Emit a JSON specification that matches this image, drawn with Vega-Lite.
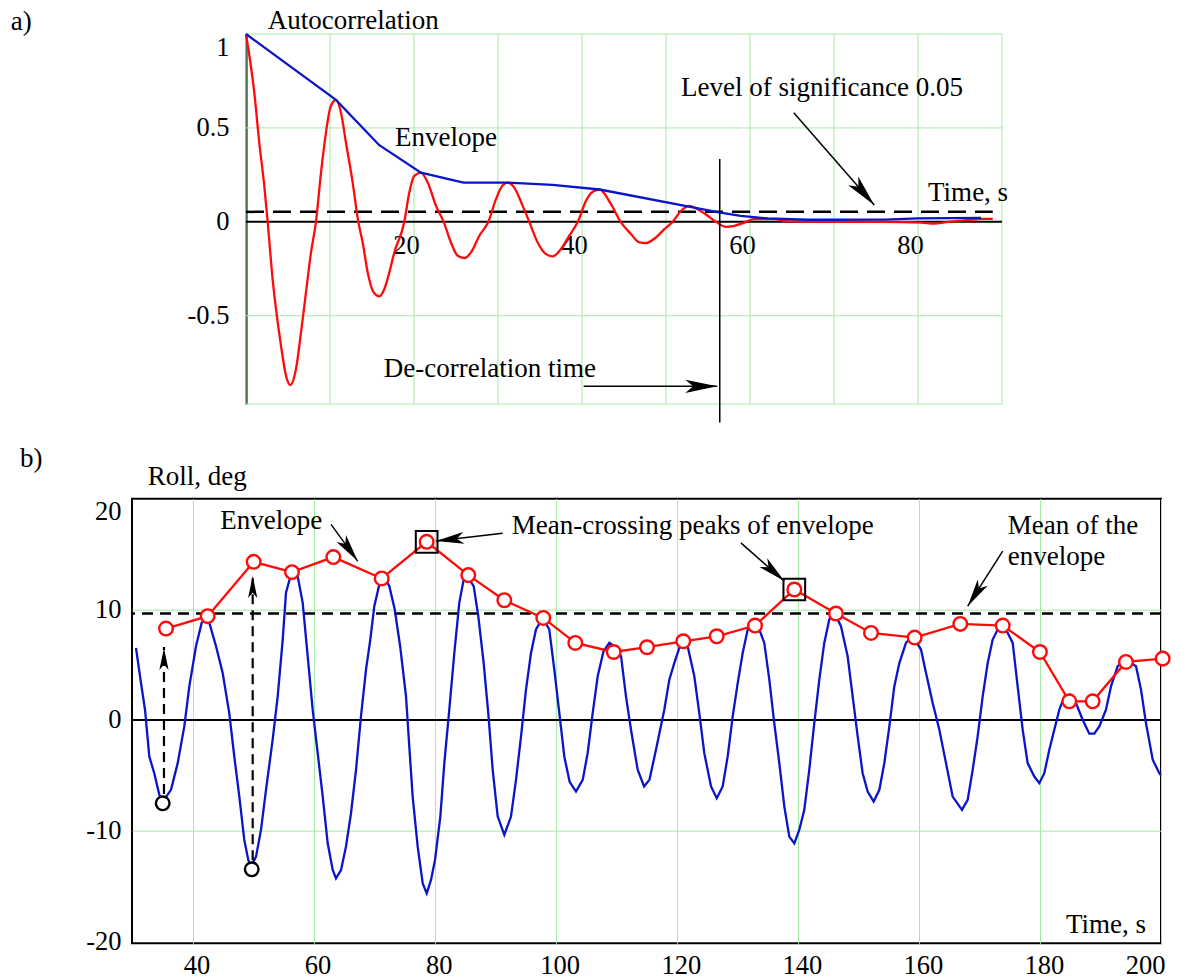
{
  "$schema": "https://vega.github.io/schema/vega-lite/v6.json",
  "background": "white",
  "padding": {"left": 10, "top": 6, "right": 4, "bottom": 0},
  "bounds": "flush",
  "spacing": 94.7,
  "config": {
    "view": {"stroke": null},
    "font": "Liberation Serif",
    "axis": {
      "labelFont": "Liberation Serif",
      "labelFontSize": 26.5,
      "labelColor": "#000000",
      "ticks": false,
      "grid": false,
      "domain": false
    },
    "text": {"font": "Liberation Serif", "fontSize": 27, "color": "#000000", "align": "left", "baseline": "alphabetic"}
  },
  "datasets": {
    "acf": [
      {"t": 0, "r": 1}, {"t": 0.99, "r": 0.688}, {"t": 1.58, "r": 0.422}, {"t": 2.18, "r": 0.19},
      {"t": 2.58, "r": 0}, {"t": 3.17, "r": -0.305}, {"t": 3.57, "r": -0.464}, {"t": 4.17, "r": -0.66},
      {"t": 4.76, "r": -0.819}, {"t": 5.28, "r": -0.869}, {"t": 5.95, "r": -0.784}, {"t": 6.55, "r": -0.589},
      {"t": 7.14, "r": -0.376}, {"t": 7.74, "r": -0.163}, {"t": 8.33, "r": 0}, {"t": 8.93, "r": 0.262},
      {"t": 9.52, "r": 0.475}, {"t": 10.04, "r": 0.608}, {"t": 10.71, "r": 0.649}, {"t": 11.31, "r": 0.581},
      {"t": 11.9, "r": 0.422}, {"t": 12.7, "r": 0.209}, {"t": 13.37, "r": 0}, {"t": 13.89, "r": -0.11},
      {"t": 14.49, "r": -0.27}, {"t": 15.2, "r": -0.376}, {"t": 15.87, "r": -0.397}, {"t": 16.47, "r": -0.358},
      {"t": 17.06, "r": -0.27}, {"t": 17.66, "r": -0.163}, {"t": 18.85, "r": 0}, {"t": 19.44, "r": 0.156},
      {"t": 20.04, "r": 0.245}, {"t": 20.83, "r": 0.262}, {"t": 21.63, "r": 0.209}, {"t": 22.62, "r": 0.085},
      {"t": 23.53, "r": 0}, {"t": 24.4, "r": -0.11}, {"t": 25.2, "r": -0.181}, {"t": 26.0, "r": -0.193},
      {"t": 26.79, "r": -0.163}, {"t": 27.78, "r": -0.074}, {"t": 28.85, "r": 0}, {"t": 29.76, "r": 0.121},
      {"t": 30.56, "r": 0.195}, {"t": 31.15, "r": 0.209}, {"t": 31.94, "r": 0.182}, {"t": 32.94, "r": 0.085},
      {"t": 33.73, "r": 0}, {"t": 34.72, "r": -0.11}, {"t": 35.71, "r": -0.172}, {"t": 36.5, "r": -0.184},
      {"t": 37.5, "r": -0.145}, {"t": 38.49, "r": -0.074}, {"t": 39.5, "r": 0}, {"t": 40.48, "r": 0.112},
      {"t": 41.27, "r": 0.16}, {"t": 42.1, "r": 0.172}, {"t": 43.45, "r": 0.094}, {"t": 44.6, "r": 0},
      {"t": 45.83, "r": -0.065}, {"t": 46.83, "r": -0.11}, {"t": 47.6, "r": -0.113}, {"t": 48.81, "r": -0.083},
      {"t": 49.8, "r": -0.039}, {"t": 50.8, "r": 0}, {"t": 51.79, "r": 0.059}, {"t": 52.8, "r": 0.085},
      {"t": 53.77, "r": 0.067}, {"t": 54.96, "r": 0.032}, {"t": 55.95, "r": 0}, {"t": 57.14, "r": -0.027},
      {"t": 58.13, "r": -0.021}, {"t": 59.32, "r": -0.004}, {"t": 60.5, "r": 0.014}, {"t": 62.9, "r": 0.014},
      {"t": 64.5, "r": 0.002}, {"t": 70, "r": 0}, {"t": 76, "r": 0}, {"t": 80.4, "r": -0.004},
      {"t": 81.9, "r": -0.01}, {"t": 83.6, "r": 0}, {"t": 85.9, "r": 0.009}, {"t": 87.7, "r": 0.016},
      {"t": 88.9, "r": 0.016}
    ],
    "acfEnvelope": [
      {"t": 0, "e": 1}, {"t": 10.71, "e": 0.649}, {"t": 15.87, "e": 0.408}, {"t": 20.83, "e": 0.262},
      {"t": 25.9, "e": 0.209}, {"t": 31.15, "e": 0.209}, {"t": 36.5, "e": 0.197}, {"t": 42.1, "e": 0.172},
      {"t": 56.3, "e": 0.05}, {"t": 58.9, "e": 0.032}, {"t": 62.1, "e": 0.018}, {"t": 66.9, "e": 0.011},
      {"t": 76, "e": 0.012}, {"t": 80, "e": 0.018}, {"t": 87.5, "e": 0.021}
    ],
    "roll": [
      {"t": 30.66, "roll": 6.5}, {"t": 31.49, "roll": 3.33}, {"t": 32.15, "roll": 0.92}, {"t": 32.86, "roll": -3.31},
      {"t": 33.68, "roll": -4.82}, {"t": 34.51, "roll": -6.78}, {"t": 35.2, "roll": -7.3}, {"t": 36.44, "roll": -6.32},
      {"t": 37.55, "roll": -3.91}, {"t": 38.64, "roll": -0.59}, {"t": 39.47, "roll": 3.03}, {"t": 40.57, "roll": 6.66},
      {"t": 41.51, "roll": 8.77}, {"t": 42.5, "roll": 9.3}, {"t": 43.88, "roll": 6.66}, {"t": 44.98, "roll": 4.24},
      {"t": 46.07, "roll": 0.62}, {"t": 46.9, "roll": -3.31}, {"t": 47.73, "roll": -6.93}, {"t": 48.55, "roll": -10.85},
      {"t": 49.21, "roll": -12.66}, {"t": 49.66, "roll": -13.27}, {"t": 50.49, "roll": -12.36}, {"t": 51.31, "roll": -9.95},
      {"t": 52.14, "roll": -6.32}, {"t": 53.24, "roll": -1.79}, {"t": 54.07, "roll": 2.13}, {"t": 54.9, "roll": 7.26},
      {"t": 55.44, "roll": 11.49}, {"t": 56.27, "roll": 13.15}, {"t": 57.37, "roll": 13.0}, {"t": 58.2, "roll": 10.58},
      {"t": 59.03, "roll": 5.75}, {"t": 59.85, "roll": 0.92}, {"t": 60.68, "roll": -3.01}, {"t": 61.51, "roll": -6.93},
      {"t": 62.33, "roll": -11.16}, {"t": 63.16, "roll": -13.57}, {"t": 63.7, "roll": -14.33}, {"t": 64.53, "roll": -13.57},
      {"t": 65.35, "roll": -11.46}, {"t": 66.18, "roll": -8.44}, {"t": 67.01, "roll": -4.51}, {"t": 67.83, "roll": 0.32},
      {"t": 68.66, "roll": 4.55}, {"t": 69.37, "roll": 7.26}, {"t": 70.03, "roll": 10.28}, {"t": 70.86, "roll": 12.25},
      {"t": 71.68, "roll": 13.0}, {"t": 72.51, "roll": 12.09}, {"t": 73.4, "roll": 10.0}, {"t": 74.3, "roll": 6.66},
      {"t": 75.27, "roll": 2.13}, {"t": 75.81, "roll": -2.4}, {"t": 76.37, "roll": -6.93}, {"t": 77.2, "roll": -11.46},
      {"t": 78.03, "roll": -14.78}, {"t": 78.69, "roll": -15.69}, {"t": 79.4, "roll": -14.47}, {"t": 80.06, "roll": -12.66},
      {"t": 80.94, "roll": -8.74}, {"t": 81.6, "roll": -3.91}, {"t": 82.42, "roll": 0.92}, {"t": 83.25, "roll": 6.05},
      {"t": 84.07, "roll": 10.58}, {"t": 84.8, "roll": 12.7}, {"t": 85.56, "roll": 12.84}, {"t": 86.45, "roll": 12.09},
      {"t": 87.21, "roll": 9.38}, {"t": 88.1, "roll": 5.14}, {"t": 88.86, "roll": 0.62}, {"t": 89.59, "roll": -4.51},
      {"t": 90.42, "roll": -8.74}, {"t": 91.51, "roll": -10.4}, {"t": 92.61, "roll": -8.74}, {"t": 93.44, "roll": -5.42},
      {"t": 94.27, "roll": -1.49}, {"t": 95.09, "roll": 2.74}, {"t": 95.92, "roll": 6.05}, {"t": 96.74, "roll": 8.17},
      {"t": 97.85, "roll": 9.22}, {"t": 98.94, "roll": 8.17}, {"t": 99.77, "roll": 4.55}, {"t": 100.6, "roll": 0.62},
      {"t": 101.42, "roll": -3.31}, {"t": 102.3, "roll": -5.6}, {"t": 103.35, "roll": -6.48}, {"t": 104.46, "roll": -5.42},
      {"t": 105.28, "roll": -3.01}, {"t": 106.11, "roll": 0.62}, {"t": 106.94, "roll": 3.94}, {"t": 107.9, "roll": 6.2},
      {"t": 108.86, "roll": 6.96}, {"t": 109.9, "roll": 6.6}, {"t": 110.8, "roll": 5.75}, {"t": 111.61, "roll": 2.13},
      {"t": 112.44, "roll": -0.89}, {"t": 113.54, "roll": -4.51}, {"t": 114.6, "roll": -6.02}, {"t": 115.5, "roll": -5.4},
      {"t": 116.6, "roll": -2.6}, {"t": 117.94, "roll": 0.92}, {"t": 118.77, "roll": 3.64}, {"t": 119.59, "roll": 5.14},
      {"t": 120.7, "roll": 6.96}, {"t": 121.8, "roll": 6.66}, {"t": 122.9, "roll": 3.94}, {"t": 123.72, "roll": 0.62},
      {"t": 124.55, "roll": -3.01}, {"t": 125.66, "roll": -6.02}, {"t": 126.6, "roll": -7.08}, {"t": 127.59, "roll": -6.02},
      {"t": 128.41, "roll": -3.31}, {"t": 129.24, "roll": 0.32}, {"t": 130.07, "roll": 3.33}, {"t": 130.89, "roll": 6.05},
      {"t": 131.72, "roll": 8.17}, {"t": 132.54, "roll": 8.62}, {"t": 133.64, "roll": 8.17}, {"t": 134.46, "roll": 6.96},
      {"t": 135.29, "roll": 3.64}, {"t": 136.11, "roll": -0.29}, {"t": 136.94, "roll": -3.91}, {"t": 137.77, "roll": -7.83},
      {"t": 138.59, "roll": -10.55}, {"t": 139.42, "roll": -11.16}, {"t": 140.24, "roll": -9.95}, {"t": 141.07, "roll": -8.13},
      {"t": 141.89, "roll": -4.51}, {"t": 142.72, "roll": -0.29}, {"t": 143.55, "roll": 3.64}, {"t": 144.37, "roll": 6.96},
      {"t": 145.2, "roll": 9.08}, {"t": 146.02, "roll": 9.67}, {"t": 147.13, "roll": 8.47}, {"t": 148.23, "roll": 5.75},
      {"t": 149.06, "roll": 2.13}, {"t": 149.89, "roll": -1.49}, {"t": 150.71, "roll": -4.82}, {"t": 151.54, "roll": -6.48},
      {"t": 152.53, "roll": -7.38}, {"t": 153.47, "roll": -6.32}, {"t": 154.29, "roll": -3.91}, {"t": 155.12, "roll": -0.59},
      {"t": 155.94, "roll": 3.03}, {"t": 156.77, "roll": 5.14}, {"t": 157.87, "roll": 6.96}, {"t": 158.98, "roll": 7.6},
      {"t": 160.35, "roll": 6.36}, {"t": 161.18, "roll": 4.24}, {"t": 162.28, "roll": 1.52}, {"t": 163.38, "roll": -0.89},
      {"t": 164.48, "roll": -3.91}, {"t": 165.58, "roll": -6.93}, {"t": 167.12, "roll": -8.13}, {"t": 168.06, "roll": -7.23},
      {"t": 168.89, "roll": -4.51}, {"t": 169.71, "roll": -1.49}, {"t": 170.54, "roll": 2.13}, {"t": 171.37, "roll": 5.14},
      {"t": 172.19, "roll": 7.26}, {"t": 173.29, "roll": 8.47}, {"t": 174.39, "roll": 8.17}, {"t": 175.5, "roll": 6.96},
      {"t": 176.32, "roll": 3.03}, {"t": 177.15, "roll": -0.89}, {"t": 177.97, "roll": -3.91}, {"t": 179.07, "roll": -5.12},
      {"t": 179.9, "roll": -5.72}, {"t": 180.72, "roll": -4.82}, {"t": 181.55, "roll": -2.7}, {"t": 182.37, "roll": -0.89},
      {"t": 183.2, "roll": 0.92}, {"t": 184.03, "roll": 2.13}, {"t": 184.96, "roll": 2.28}, {"t": 185.95, "roll": 1.52},
      {"t": 187.06, "roll": 0.02}, {"t": 188.15, "roll": -1.25}, {"t": 188.98, "roll": -1.25}, {"t": 189.81, "roll": -0.59},
      {"t": 190.91, "roll": 0.92}, {"t": 191.74, "roll": 3.03}, {"t": 192.84, "roll": 4.85}, {"t": 194.21, "roll": 5.45},
      {"t": 195.87, "roll": 4.85}, {"t": 196.7, "roll": 2.74}, {"t": 197.52, "roll": -0.29}, {"t": 198.63, "roll": -3.6},
      {"t": 199.72, "roll": -4.82}, {"t": 200, "roll": -5.0}
    ],
    "rollEnvelope": [
      {"t": 35.62, "env": 8.26}, {"t": 42.5, "env": 9.38}, {"t": 50.1, "env": 14.29}, {"t": 56.43, "env": 13.36},
      {"t": 63.26, "env": 14.72}, {"t": 71.25, "env": 12.79}, {"t": 78.68, "env": 16.1}, {"t": 85.56, "env": 13.09},
      {"t": 91.51, "env": 10.82}, {"t": 97.95, "env": 9.22}, {"t": 103.24, "env": 6.96}, {"t": 109.58, "env": 6.14},
      {"t": 115.08, "env": 6.57}, {"t": 121.08, "env": 7.11}, {"t": 126.6, "env": 7.56}, {"t": 132.93, "env": 8.53},
      {"t": 139.42, "env": 11.79}, {"t": 146.3, "env": 9.62}, {"t": 152.09, "env": 7.86}, {"t": 159.3, "env": 7.44},
      {"t": 166.84, "env": 8.68}, {"t": 173.85, "env": 8.53}, {"t": 180.0, "env": 6.14}, {"t": 184.85, "env": 1.68},
      {"t": 188.71, "env": 1.68}, {"t": 194.21, "env": 5.24}, {"t": 200.28, "env": 5.54}
    ],
    "crossingPeaks": [{"t": 78.68, "env": 16.1}, {"t": 139.42, "env": 11.79}],
    "troughs": [{"t": 35.07, "roll": -7.54}, {"t": 49.78, "roll": -13.51}],
    "gridTime": [
      {"t": 0}, {"t": 10}, {"t": 20}, {"t": 30}, {"t": 40}, {"t": 50}, {"t": 60}, {"t": 70}, {"t": 80}, {"t": 90}
    ],
    "gridCorr": [{"v": -0.97}, {"v": -0.5}, {"v": 0.5}, {"v": 1}]
  },
  "vconcat": [
    {
      "width": 870,
      "height": 370,
      "data": {"values": [{}]},
      "layer": [
        {
          "data": {"name": "gridTime"},
          "mark": {"type": "rule", "color": "#a6eba6", "strokeWidth": 1},
          "encoding": {
            "x": {
              "field": "t", "type": "quantitative",
              "scale": {"domain": [-13.571, 90], "nice": false, "zero": false},
              "axis": {"orient": "bottom", "offset": -182.2, "values": [20, 40, 60, 80], "format": "d", "labelPadding": 11, "labelOffset": -8, "title": null}
            },
            "y": {
              "datum": -0.97, "type": "quantitative",
              "scale": {"domain": [-0.97, 1], "nice": false, "zero": false},
              "axis": {
                "orient": "left", "offset": -114, "values": [-0.5, 0, 0.5, 1],
                "labelExpr": "replace(format(datum.value, '~g'), '\u2212', '-')",
                "labelFlush": true, "labelPadding": 17,
                "domain": true, "domainColor": "#000000", "domainWidth": 2, "title": null
              }
            },
            "y2": {"datum": 1}
          }
        },
        {
          "data": {"name": "gridCorr"},
          "mark": {"type": "rule", "color": "#a6eba6", "strokeWidth": 1},
          "encoding": {
            "y": {"field": "v", "type": "quantitative"},
            "x": {"datum": 0, "type": "quantitative"},
            "x2": {"datum": 90}
          }
        },
        {
          "mark": {"type": "rule", "color": "#000000", "strokeWidth": 2},
          "encoding": {"x": {"datum": 0, "type": "quantitative"}, "x2": {"datum": 90}, "y": {"datum": 0, "type": "quantitative"}}
        },
        {
          "mark": {"type": "rule", "color": "#000000", "strokeWidth": 2.5, "strokeDash": [18, 9]},
          "encoding": {"x": {"datum": 0, "type": "quantitative"}, "x2": {"datum": 88.9}, "y": {"datum": 0.053, "type": "quantitative"}}
        },
        {
          "data": {"name": "acf"},
          "mark": {"type": "line", "color": "#ff0a0a", "strokeWidth": 2.3, "interpolate": "monotone"},
          "encoding": {"x": {"field": "t", "type": "quantitative"}, "y": {"field": "r", "type": "quantitative"}}
        },
        {
          "data": {"name": "acfEnvelope"},
          "mark": {"type": "line", "color": "#0a14c8", "strokeWidth": 2.3},
          "encoding": {"x": {"field": "t", "type": "quantitative"}, "y": {"field": "e", "type": "quantitative"}}
        },
        {
          "mark": {"type": "rule", "color": "#000000", "strokeWidth": 1.5},
          "encoding": {"x": {"datum": 56.4, "type": "quantitative"}, "y": {"datum": 0.335, "type": "quantitative"}, "y2": {"datum": -1.069}}
        },
        {
          "mark": {"type": "rule", "color": "#000000", "strokeWidth": 1.5},
          "encoding": {"x": {"datum": 40.2, "type": "quantitative"}, "x2": {"datum": 56.1}, "y": {"datum": -0.876, "type": "quantitative"}}
        },
        {
          "mark": {"type": "point", "shape": "M0,0L-2,-0.42L-1.5,0L-2,0.42Z", "size": 1024, "filled": true, "color": "#000000", "opacity": 1, "strokeWidth": 0, "angle": 0},
          "encoding": {"x": {"datum": 56.1, "type": "quantitative"}, "y": {"datum": -0.876, "type": "quantitative"}}
        },
        {
          "mark": {"type": "rule", "color": "#000000", "strokeWidth": 1.5},
          "encoding": {"x": {"datum": 65.21, "type": "quantitative"}, "y": {"datum": 0.581, "type": "quantitative"}, "x2": {"datum": 74.79}, "y2": {"datum": 0.09}}
        },
        {
          "mark": {"type": "point", "shape": "M0,0L-2,-0.42L-1.5,0L-2,0.42Z", "size": 1024, "filled": true, "color": "#000000", "opacity": 1, "strokeWidth": 0, "angle": 48.9},
          "encoding": {"x": {"datum": 74.79, "type": "quantitative"}, "y": {"datum": 0.09, "type": "quantitative"}}
        },
        {
          "mark": {"type": "text", "text": "a)"},
          "encoding": {"x": {"datum": -28.0, "type": "quantitative"}, "y": {"datum": 1.021, "type": "quantitative"}}
        },
        {
          "mark": {"type": "text", "text": "Autocorrelation"},
          "encoding": {"x": {"datum": 2.6, "type": "quantitative"}, "y": {"datum": 1.027, "type": "quantitative"}}
        },
        {
          "mark": {"type": "text", "text": "Envelope"},
          "encoding": {"x": {"datum": 17.74, "type": "quantitative"}, "y": {"datum": 0.404, "type": "quantitative"}}
        },
        {
          "mark": {"type": "text", "text": "De-correlation time"},
          "encoding": {"x": {"datum": 16.4, "type": "quantitative"}, "y": {"datum": -0.824, "type": "quantitative"}}
        },
        {
          "mark": {"type": "text", "text": "Level of significance 0.05"},
          "encoding": {"x": {"datum": 51.8, "type": "quantitative"}, "y": {"datum": 0.668, "type": "quantitative"}}
        },
        {
          "mark": {"type": "text", "text": "Time, s"},
          "encoding": {"x": {"datum": 81.2, "type": "quantitative"}, "y": {"datum": 0.112, "type": "quantitative"}}
        }
      ]
    },
    {
      "width": 1029,
      "height": 444.6,
      "view": {"stroke": "#000000", "strokeWidth": 2},
      "data": {"values": [{}]},
      "layer": [
        {
          "mark": {"type": "rule", "color": "#000000", "strokeWidth": 2},
          "encoding": {
            "y": {
              "datum": 0, "type": "quantitative",
              "scale": {"domain": [-20.2, 20], "nice": false, "zero": false},
              "axis": {
                "orient": "left", "values": [-20, -10, 0, 10, 20],
                "labelExpr": "replace(format(datum.value, '~g'), '\u2212', '-')",
                "labelPadding": 11,
                "labelBaseline": {"condition": {"test": "datum.value == 20", "value": "top"}, "value": "middle"},
                "grid": true,
                "gridColor": {"condition": {"test": "abs(datum.value) == 10", "value": "#a6eba6"}, "value": "rgba(0,0,0,0)"},
                "gridWidth": 1,
                "title": null
              }
            }
          }
        },
        {
          "mark": {"type": "rule", "color": "#000000", "strokeWidth": 2.5, "strokeDash": [11, 7]},
          "encoding": {"y": {"datum": 9.62, "type": "quantitative"}}
        },
        {
          "data": {"name": "roll"},
          "mark": {"type": "line", "color": "#0a14c8", "strokeWidth": 2.3},
          "encoding": {
            "x": {
              "field": "t", "type": "quantitative",
              "scale": {"domain": [30, 200], "nice": false, "zero": false},
              "axis": {"orient": "bottom", "values": [40, 60, 80, 100, 120, 140, 160, 180, 200], "format": "d", "labelPadding": 9, "labelOffset": 4, "grid": true, "gridColor": "#a6eba6", "gridWidth": 1, "title": null}
            },
            "y": {"field": "roll", "type": "quantitative"}
          }
        },
        {
          "mark": {"type": "rule", "color": "#000000", "strokeWidth": 2.2, "strokeDash": [10, 6]},
          "encoding": {"x": {"datum": 35.28, "type": "quantitative"}, "y": {"datum": -6.7, "type": "quantitative"}, "y2": {"datum": 6.6}}
        },
        {
          "mark": {"type": "rule", "color": "#000000", "strokeWidth": 2.2, "strokeDash": [10, 6]},
          "encoding": {"x": {"datum": 49.94, "type": "quantitative"}, "y": {"datum": -12.7, "type": "quantitative"}, "y2": {"datum": 13.0}}
        },
        {
          "data": {"name": "rollEnvelope"},
          "mark": {"type": "line", "color": "#ff0a0a", "strokeWidth": 2.3},
          "encoding": {"x": {"field": "t", "type": "quantitative"}, "y": {"field": "env", "type": "quantitative"}}
        },
        {
          "data": {"name": "crossingPeaks"},
          "mark": {"type": "point", "shape": "square", "size": 471, "filled": false, "color": "#000000", "strokeWidth": 2, "opacity": 1},
          "encoding": {"x": {"field": "t", "type": "quantitative"}, "y": {"field": "env", "type": "quantitative"}}
        },
        {
          "data": {"name": "rollEnvelope"},
          "mark": {"type": "point", "shape": "circle", "size": 185, "filled": true, "fill": "#ffffff", "stroke": "#ff0a0a", "strokeWidth": 2.4, "opacity": 1},
          "encoding": {"x": {"field": "t", "type": "quantitative"}, "y": {"field": "env", "type": "quantitative"}}
        },
        {
          "data": {"name": "troughs"},
          "mark": {"type": "point", "shape": "circle", "size": 185, "filled": true, "fill": "#ffffff", "stroke": "#000000", "strokeWidth": 2.4, "opacity": 1},
          "encoding": {"x": {"field": "t", "type": "quantitative"}, "y": {"field": "roll", "type": "quantitative"}}
        },
        {
          "mark": {"type": "point", "shape": "M0,0L-2,-0.42L-1.5,0L-2,0.42Z", "size": 484, "filled": true, "color": "#000000", "opacity": 1, "strokeWidth": 0, "angle": -90},
          "encoding": {"x": {"datum": 35.28, "type": "quantitative"}, "y": {"datum": 6.5, "type": "quantitative"}}
        },
        {
          "mark": {"type": "point", "shape": "M0,0L-2,-0.42L-1.5,0L-2,0.42Z", "size": 484, "filled": true, "color": "#000000", "opacity": 1, "strokeWidth": 0, "angle": -90},
          "encoding": {"x": {"datum": 49.94, "type": "quantitative"}, "y": {"datum": 13.0, "type": "quantitative"}}
        },
        {
          "mark": {"type": "rule", "color": "#000000", "strokeWidth": 1.5},
          "encoding": {"x": {"datum": 62.88, "type": "quantitative"}, "y": {"datum": 17.68, "type": "quantitative"}, "x2": {"datum": 67.29}, "y2": {"datum": 14.36}}
        },
        {
          "mark": {"type": "point", "shape": "M0,0L-2,-0.42L-1.5,0L-2,0.42Z", "size": 784, "filled": true, "color": "#000000", "opacity": 1, "strokeWidth": 0, "angle": 54},
          "encoding": {"x": {"datum": 67.29, "type": "quantitative"}, "y": {"datum": 14.36, "type": "quantitative"}}
        },
        {
          "mark": {"type": "rule", "color": "#000000", "strokeWidth": 1.5},
          "encoding": {"x": {"datum": 91.24, "type": "quantitative"}, "y": {"datum": 16.87, "type": "quantitative"}, "x2": {"datum": 80.22}, "y2": {"datum": 16.17}}
        },
        {
          "mark": {"type": "point", "shape": "M0,0L-2,-0.42L-1.5,0L-2,0.42Z", "size": 784, "filled": true, "color": "#000000", "opacity": 1, "strokeWidth": 0, "angle": 173.4},
          "encoding": {"x": {"datum": 80.22, "type": "quantitative"}, "y": {"datum": 16.17, "type": "quantitative"}}
        },
        {
          "mark": {"type": "rule", "color": "#000000", "strokeWidth": 1.5},
          "encoding": {"x": {"datum": 130.6, "type": "quantitative"}, "y": {"datum": 16.01, "type": "quantitative"}, "x2": {"datum": 137.77}, "y2": {"datum": 12.55}}
        },
        {
          "mark": {"type": "point", "shape": "M0,0L-2,-0.42L-1.5,0L-2,0.42Z", "size": 784, "filled": true, "color": "#000000", "opacity": 1, "strokeWidth": 0, "angle": 41.5},
          "encoding": {"x": {"datum": 137.77, "type": "quantitative"}, "y": {"datum": 12.55, "type": "quantitative"}}
        },
        {
          "mark": {"type": "rule", "color": "#000000", "strokeWidth": 1.5},
          "encoding": {"x": {"datum": 173.85, "type": "quantitative"}, "y": {"datum": 15.26, "type": "quantitative"}, "x2": {"datum": 168.06}, "y2": {"datum": 10.28}}
        },
        {
          "mark": {"type": "point", "shape": "M0,0L-2,-0.42L-1.5,0L-2,0.42Z", "size": 784, "filled": true, "color": "#000000", "opacity": 1, "strokeWidth": 0, "angle": 122.5},
          "encoding": {"x": {"datum": 168.06, "type": "quantitative"}, "y": {"datum": 10.28, "type": "quantitative"}}
        },
        {
          "mark": {"type": "text", "text": "b)"},
          "encoding": {"x": {"datum": 11.5, "type": "quantitative"}, "y": {"datum": 22.87, "type": "quantitative"}}
        },
        {
          "mark": {"type": "text", "text": "Roll, deg"},
          "encoding": {"x": {"datum": 32.6, "type": "quantitative"}, "y": {"datum": 21.24, "type": "quantitative"}}
        },
        {
          "mark": {"type": "text", "text": "Envelope"},
          "encoding": {"x": {"datum": 44.6, "type": "quantitative"}, "y": {"datum": 17.3, "type": "quantitative"}}
        },
        {
          "mark": {"type": "text", "text": "Mean-crossing peaks of envelope"},
          "encoding": {"x": {"datum": 92.73, "type": "quantitative"}, "y": {"datum": 16.8, "type": "quantitative"}}
        },
        {
          "mark": {"type": "text", "text": "Mean of the\nenvelope", "lineBreak": "\n", "lineHeight": 31},
          "encoding": {"x": {"datum": 174.67, "type": "quantitative"}, "y": {"datum": 16.78, "type": "quantitative"}}
        },
        {
          "mark": {"type": "text", "text": "Time, s"},
          "encoding": {"x": {"datum": 184.3, "type": "quantitative"}, "y": {"datum": -19.25, "type": "quantitative"}}
        }
      ]
    }
  ]
}
